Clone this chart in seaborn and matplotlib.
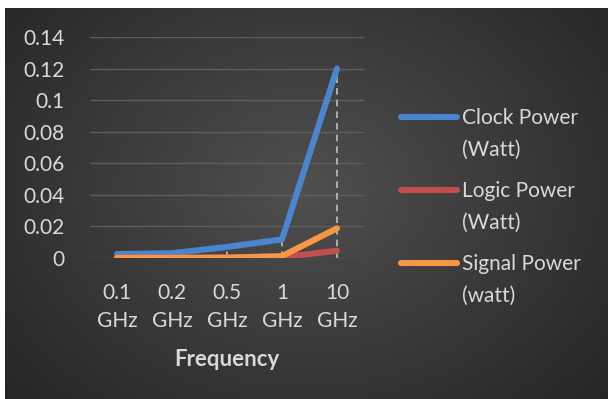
import numpy as np
import pandas as pd
import matplotlib
matplotlib.use("Agg")
import matplotlib.pyplot as plt
from matplotlib.lines import Line2D
import seaborn as sns

# Power consumption at each clock frequency
frequencies = ["0.1\nGHz", "0.2\nGHz", "0.5\nGHz", "1\nGHz", "10\nGHz"]
clock_power = [0.0025, 0.003, 0.007, 0.0118, 0.120]
logic_power = [0.0002, 0.0002, 0.0003, 0.0005, 0.0046]
signal_power = [0.0001, 0.0001, 0.0002, 0.0012, 0.0188]
series_names = ["Clock Power\n(Watt)", "Logic Power\n(Watt)", "Signal Power\n(watt)"]
y_ticks = [0, 0.02, 0.04, 0.06, 0.08, 0.1, 0.12, 0.14]
y_tick_labels = ["0", "0.02", "0.04", "0.06", "0.08", "0.1", "0.12", "0.14"]

colors = ["#4a85cf", "#c0504d", "#f79646"]
text_color = "#d9d9d9"
fs = 15

df = pd.DataFrame({
    "Frequency": frequencies * 3,
    "Power": clock_power + logic_power + signal_power,
    "Series": [n for n in series_names for _ in frequencies],
})

sns.set_theme(style="white")
plt.rcParams["font.family"] = ["Lato", "DejaVu Sans"]

W, H = 608, 399
fig = plt.figure(figsize=(W / 100, H / 100), dpi=100, facecolor="white")

# Dark radial-gradient chart background
bg = fig.add_axes([5 / W, 0, (W - 5) / W, (H - 8) / H], zorder=0)
gy, gx = np.mgrid[0:391, 0:603]
r = np.sqrt(((gx - 300) / 420) ** 2 + ((gy - 180) / 330) ** 2)
shade = np.clip(0.31 - 0.17 * r, 0.12, 0.31)
bg.imshow(np.dstack([shade] * 3), aspect="auto", interpolation="bilinear")
bg.set_axis_off()

x0, x1 = 89.5, 364.5
y_bottom, y_top = H - 258, H - 37
ax = fig.add_axes([x0 / W, y_bottom / H, (x1 - x0) / W, (y_top - y_bottom) / H], zorder=1)
ax.patch.set_alpha(0)

# Drop lines from the highest point of each category to the axis
tops = [max(v) for v in zip(clock_power, logic_power, signal_power)]
ax.vlines(frequencies, 0, tops, colors="#bfbfbf", linestyles=(0, (4, 3)), linewidth=1.2, zorder=1)

sns.lineplot(data=df, x="Frequency", y="Power", hue="Series", palette=colors,
             linewidth=4.4, sort=False, ax=ax, zorder=3, legend=False,
             solid_capstyle="round", solid_joinstyle="round")

ax.set_xlim(-0.5, 4.5)
ax.set_ylim(0, 0.14)
ax.set_yticks(y_ticks)
ax.set_yticklabels(y_tick_labels)
ax.yaxis.grid(True, color="#5e5e5e", linewidth=1)
ax.xaxis.grid(False)
ax.set_axisbelow(True)
for s in ax.spines.values():
    s.set_visible(False)
ax.tick_params(axis="both", length=0, colors=text_color, labelsize=fs)
ax.tick_params(axis="y", pad=18)
ax.tick_params(axis="x", pad=18)
for lbl in ax.get_xticklabels():
    lbl.set_linespacing(1.5)
ax.set_ylabel("")
ax.set_xlabel("Frequency", color=text_color, fontsize=fs + 1, fontweight="bold", labelpad=13)

# Legend: handle aligned with the first line of each two-line label
for i, (name, c) in enumerate(zip(series_names, colors)):
    y = 117 + i * 73
    fig.add_artist(Line2D([401 / W, 457 / W], [(H - y) / H] * 2, color=c,
                          linewidth=4.4, solid_capstyle="round", transform=fig.transFigure))
    fig.text(462 / W, (H - y + 9) / H, name, color=text_color, fontsize=fs,
             va="top", ha="left", linespacing=1.75)

fig.savefig("out.png", dpi=100, facecolor="white")
